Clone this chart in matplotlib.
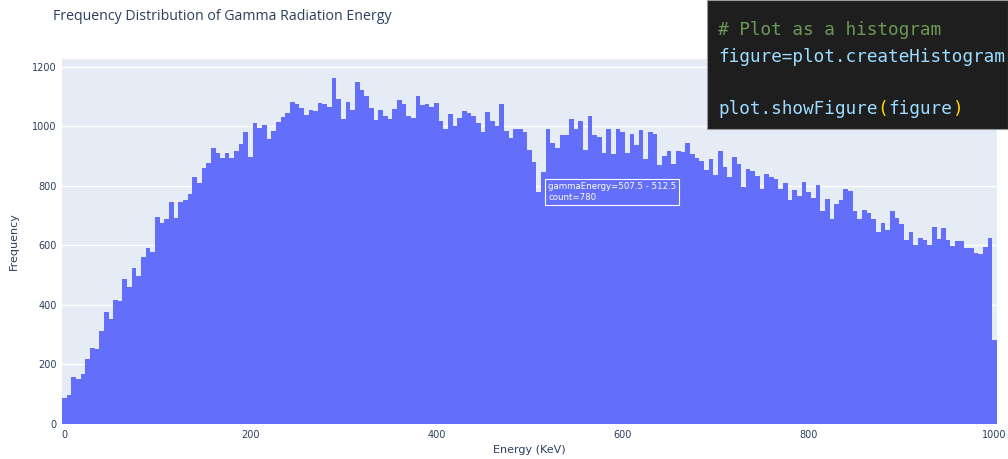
import numpy as np
import matplotlib
matplotlib.use("Agg")
import matplotlib.pyplot as plt

# histogram of gamma energies, 5 keV bins centred on 0, 5, ... 1000
bin_first = 0
bin_width = 5
counts = [
    88, 99, 157, 152, 169, 217, 257, 251, 313, 375,
    354, 418, 413, 488, 460, 526, 496, 560, 593, 578,
    697, 676, 688, 747, 694, 747, 753, 772, 829, 811,
    860, 876, 927, 912, 894, 910, 894, 917, 942, 980,
    897, 1011, 996, 1004, 958, 984, 1016, 1031, 1047, 1081,
    1074, 1061, 1040, 1054, 1052, 1079, 1074, 1065, 1164, 1093,
    1024, 1083, 1056, 1148, 1124, 1103, 1062, 1022, 1056, 1034,
    1025, 1058, 1090, 1076, 1036, 1029, 1101, 1072, 1076, 1065,
    1079, 1020, 993, 1043, 1002, 1029, 1052, 1047, 1034, 1011,
    980, 1049, 1020, 1002, 1076, 984, 962, 993, 993, 980,
    920, 880, 780, 847, 991, 944, 928, 971, 971, 1026,
    991, 1020, 921, 1036, 971, 964, 910, 991, 908, 993,
    980, 912, 975, 939, 989, 890, 980, 975, 872, 901,
    917, 874, 917, 914, 944, 908, 894, 885, 854, 890,
    838, 917, 863, 829, 897, 874, 796, 858, 849, 834,
    789, 840, 829, 822, 789, 809, 753, 787, 766, 812,
    780, 760, 804, 715, 755, 688, 738, 753, 791, 784,
    715, 689, 719, 708, 690, 647, 676, 652, 717, 692,
    672, 618, 645, 602, 625, 618, 602, 661, 622, 658,
    618, 598, 616, 616, 591, 591, 575, 571, 596, 625,
    283,
]
x_ticks = [0, 200, 400, 600, 800, 1000]
y_ticks = [0, 200, 400, 600, 800, 1000, 1200]
hover_bin = 102   # the bar under the mouse: 507.5 - 512.5

centers = bin_first + bin_width * np.arange(len(counts))

BAR = "#636efa"
BG = "#e5ecf6"
TXT = "#2a3f5f"

fig = plt.figure(figsize=(10.08, 4.59), dpi=100)
ax = fig.add_axes([62 / 1008, 35 / 459, 935 / 1008, 365 / 459])
ax.set_facecolor(BG)
ax.bar(centers, counts, width=bin_width, color=BAR, linewidth=0, zorder=2)

ax.set_xlim(centers[0] - bin_width / 2, centers[-1] + bin_width / 2)
ax.set_ylim(0, max(counts) * 1.054)
ax.set_xticks(x_ticks)
ax.set_yticks(y_ticks)
ax.tick_params(length=0, labelsize=7, labelcolor=TXT)
ax.tick_params(axis="x", pad=4)
ax.tick_params(axis="y", pad=4)
ax.grid(axis="y", color="white", linewidth=1, zorder=1)
ax.set_axisbelow(True)
for s in ax.spines.values():
    s.set_visible(False)
ax.set_xlabel("Energy (KeV)", fontsize=8, color=TXT, labelpad=4)
ax.set_ylabel("Frequency", fontsize=8, color=TXT, labelpad=9)

fig.text(53 / 1008, 1 - 16 / 459, "Frequency Distribution of Gamma Radiation Energy",
         fontsize=10.2, color=TXT, family="Open Sans", va="center", ha="left")

# hover label
lo = centers[hover_bin] - bin_width / 2
hi = centers[hover_bin] + bin_width / 2
ax.annotate(f"gammaEnergy={lo:g} - {hi:g}\ncount={counts[hover_bin]}",
            xy=(hi, counts[hover_bin]), xytext=(5, 0), textcoords="offset points",
            ha="left", va="center", fontsize=6.2, color="white", linespacing=1.3,
            bbox=dict(boxstyle="square,pad=0.35", fc=BAR, ec="white", lw=0.8),
            zorder=5)

# code snippet pasted over the top right corner
fig.patches.append(plt.Rectangle((707 / 1008, 1 - 129 / 459), 301 / 1008, 129 / 459,
                                 transform=fig.transFigure, fc="#1e1e1e",
                                 ec="#9a9a9a", lw=0.8, zorder=10))
mono = dict(family="DejaVu Sans Mono", fontsize=12.8, va="center", ha="left", zorder=11)
fig.text(718 / 1008, 1 - 30 / 459, "# Plot as a histogram", color="#6a9955", **mono)
fig.text(718 / 1008, 1 - 57 / 459, "figure=plot.createHistogram", color="#9cdcfe", **mono)
t = fig.text(718 / 1008, 1 - 109 / 459, "plot.showFigure", color="#9cdcfe", **mono)
fig.canvas.draw()
bb = t.get_window_extent()
t2 = fig.text(bb.x1 / 1008, 1 - 109 / 459, "(", color="#ffd700", **mono)
bb = t2.get_window_extent()
t3 = fig.text(bb.x1 / 1008, 1 - 109 / 459, "figure", color="#9cdcfe", **mono)
bb = t3.get_window_extent()
fig.text(bb.x1 / 1008, 1 - 109 / 459, ")", color="#ffd700", **mono)

fig.savefig("out.png", dpi=100)
